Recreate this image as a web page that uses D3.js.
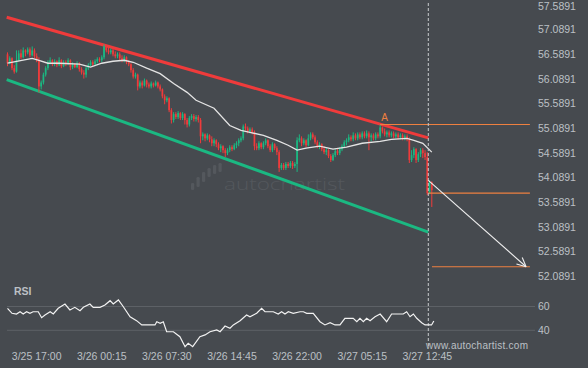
<!DOCTYPE html>
<html>
<head>
<meta charset="utf-8">
<script src="https://cdnjs.cloudflare.com/ajax/libs/d3/7.8.5/d3.min.js"></script>
<style>
  html, body { margin: 0; padding: 0; background: #464a4f; }
  svg { display: block; }
  text { font-family: "Liberation Sans", Arial, sans-serif; }
</style>
</head>
<body>
<div id="chart"></div>
<script>
// 15 minute bars, index 0 .. 189 (open = previous close)
var firstOpen = 56.57;
var barCloses = [
  56.39, 56.49, 56.29, 56.22, 56.45, 56.59, 56.51, 56.65, 56.61, 56.67,
  56.55, 56.65, 56.53, 56.45, 55.92, 56.00, 56.16, 56.29, 56.41, 56.45,
  56.37, 56.43, 56.35, 56.45, 56.33, 56.41, 56.37, 56.45, 56.31, 56.37,
  56.31, 56.39, 56.27, 56.20, 56.16, 56.29, 56.35, 56.41, 56.37, 56.43,
  56.47, 56.45, 56.51, 56.73, 56.65, 56.61, 56.65, 56.57, 56.53, 56.57,
  56.49, 56.45, 56.51, 56.41, 56.37, 56.25, 56.12, 56.16, 55.92, 56.00,
  55.94, 56.04, 55.96, 55.92, 55.98, 55.94, 56.00, 55.92, 55.86, 55.72,
  55.64, 55.68, 55.44, 55.24, 55.36, 55.30, 55.38, 55.28, 55.36, 55.24,
  55.15, 55.28, 55.32, 55.26, 55.30, 55.24, 54.91, 54.95, 54.87, 54.93,
  54.85, 54.77, 54.83, 54.75, 54.67, 54.71, 54.63, 54.57, 54.63, 54.69,
  54.65, 54.73, 54.77, 54.83, 54.87, 55.11, 55.07, 55.01, 55.05, 54.99,
  54.71, 54.67, 54.77, 54.69, 54.77, 54.83, 54.71, 54.63, 54.75, 54.67,
  54.59, 54.27, 54.33, 54.27, 54.35, 54.31, 54.37, 54.31, 54.35, 54.83,
  54.87, 54.77, 54.83, 54.73, 54.87, 54.95, 54.89, 54.79, 54.71, 54.75,
  54.65, 54.59, 54.63, 54.51, 54.43, 54.53, 54.61, 54.57, 54.65, 54.71,
  54.79, 54.83, 54.89, 54.85, 54.93, 54.87, 54.95, 54.89, 54.97, 54.91,
  54.97, 54.89, 54.93, 54.87, 54.95, 54.91, 55.09, 55.01, 54.95, 54.99,
  54.93, 54.97, 54.91, 54.95, 54.89, 54.93, 54.87, 54.91, 54.85, 54.43,
  54.53, 54.65, 54.43, 54.55, 54.63, 54.57, 54.49, 53.76, 53.98, 53.82
];
var barHighs = [
  56.61, 56.53, 56.51, 56.35, 56.65, 56.65, 56.67, 56.71, 56.67, 56.71,
  56.71, 56.73, 56.69, 56.59, 56.51, 56.04, 56.20, 56.33, 56.45, 56.51,
  56.47, 56.47, 56.45, 56.51, 56.47, 56.45, 56.45, 56.49, 56.47, 56.41,
  56.39, 56.43, 56.41, 56.31, 56.25, 56.33, 56.39, 56.45, 56.45, 56.47,
  56.51, 56.51, 56.55, 56.77, 56.75, 56.71, 56.69, 56.69, 56.63, 56.61,
  56.61, 56.55, 56.55, 56.53, 56.45, 56.39, 56.29, 56.20, 56.18, 56.04,
  56.04, 56.08, 56.06, 56.00, 56.02, 56.00, 56.04, 56.02, 55.96, 55.88,
  55.76, 55.72, 55.70, 55.48, 55.40, 55.40, 55.42, 55.40, 55.40, 55.38,
  55.28, 55.32, 55.36, 55.36, 55.34, 55.34, 55.28, 54.99, 54.97, 54.97,
  54.95, 54.91, 54.87, 54.85, 54.79, 54.75, 54.73, 54.67, 54.67, 54.73,
  54.73, 54.77, 54.81, 54.87, 54.91, 55.15, 55.17, 55.11, 55.09, 55.09,
  55.03, 54.77, 54.81, 54.79, 54.81, 54.87, 54.85, 54.75, 54.79, 54.77,
  54.71, 54.63, 54.37, 54.37, 54.39, 54.39, 54.41, 54.41, 54.39, 54.89,
  54.95, 54.91, 54.87, 54.85, 54.95, 54.99, 54.99, 54.93, 54.83, 54.79,
  54.77, 54.71, 54.67, 54.65, 54.55, 54.57, 54.65, 54.65, 54.69, 54.75,
  54.83, 54.87, 54.95, 54.93, 54.99, 54.97, 54.99, 54.99, 55.01, 55.01,
  55.03, 55.01, 54.97, 54.97, 54.99, 54.99, 55.15, 55.11, 55.07, 55.03,
  55.03, 55.01, 55.01, 54.99, 54.99, 54.97, 54.97, 54.95, 54.95, 54.89,
  54.63, 54.69, 54.67, 54.59, 54.67, 54.67, 54.63, 54.59, 54.02, 54.00
];
var barLows = [
  56.33, 56.37, 56.25, 56.18, 56.20, 56.43, 56.47, 56.49, 56.53, 56.57,
  56.51, 56.53, 56.49, 56.41, 55.80, 55.86, 55.96, 56.12, 56.25, 56.37,
  56.33, 56.33, 56.31, 56.33, 56.29, 56.31, 56.33, 56.35, 56.25, 56.27,
  56.29, 56.29, 56.22, 56.16, 56.08, 56.10, 56.25, 56.33, 56.33, 56.33,
  56.39, 56.41, 56.41, 56.47, 56.61, 56.57, 56.57, 56.53, 56.49, 56.49,
  56.45, 56.41, 56.41, 56.37, 56.33, 56.20, 56.08, 56.08, 55.84, 55.88,
  55.88, 55.92, 55.90, 55.88, 55.88, 55.90, 55.92, 55.88, 55.82, 55.68,
  55.56, 55.60, 55.40, 55.17, 55.19, 55.26, 55.26, 55.24, 55.24, 55.15,
  55.09, 55.11, 55.24, 55.21, 55.21, 55.19, 54.77, 54.83, 54.81, 54.83,
  54.79, 54.71, 54.71, 54.69, 54.63, 54.59, 54.57, 54.49, 54.53, 54.59,
  54.61, 54.63, 54.67, 54.71, 54.79, 54.83, 55.03, 54.97, 54.97, 54.95,
  54.63, 54.63, 54.63, 54.65, 54.65, 54.73, 54.67, 54.59, 54.59, 54.63,
  54.53, 54.19, 54.23, 54.23, 54.23, 54.27, 54.27, 54.25, 54.27, 54.19,
  54.79, 54.71, 54.73, 54.69, 54.71, 54.83, 54.85, 54.75, 54.67, 54.65,
  54.61, 54.55, 54.53, 54.47, 54.39, 54.41, 54.49, 54.53, 54.53, 54.61,
  54.67, 54.73, 54.79, 54.81, 54.81, 54.83, 54.83, 54.85, 54.85, 54.87,
  54.87, 54.63, 54.81, 54.83, 54.83, 54.87, 54.87, 54.97, 54.91, 54.89,
  54.89, 54.89, 54.87, 54.87, 54.85, 54.85, 54.83, 54.83, 54.81, 54.37,
  54.39, 54.47, 54.37, 54.39, 54.49, 54.47, 54.43, 53.72, 53.74, 53.48
];
// moving average, [bar, price]
var maPoints = [
  [0, 56.39], [11, 56.49], [14, 56.45], [18, 56.39], [23, 56.39], [32, 56.37],
  [37, 56.31], [42, 56.39], [47, 56.43], [52, 56.45], [56, 56.41], [62, 56.29],
  [68, 56.18], [74, 55.98], [80, 55.80], [84, 55.64], [92, 55.48], [99, 55.13],
  [104, 55.03], [108, 54.99], [114, 54.93], [120, 54.83], [125, 54.73], [129, 54.63],
  [133, 54.67], [139, 54.71], [145, 54.65], [151, 54.69], [158, 54.77], [166, 54.81],
  [171, 54.85], [178, 54.87], [181, 54.83], [185, 54.77], [189, 54.59]
];
// RSI, [bar, value]
var rsiPoints = [
  [0, 58.5], [2, 54.3], [4, 53.7], [5.6, 55.6], [7, 53.7], [8.5, 55.6], [10, 54.3],
  [11.4, 55.6], [13.7, 55.6], [15.2, 50.6], [16.7, 52.9], [19, 55.6], [20.4, 53.7],
  [22.6, 58.5], [25.6, 62.1], [27.8, 57.1], [30, 59.3], [32.3, 56.5], [33.8, 59.3],
  [36.7, 62.1], [38.2, 59.3], [41.2, 59.3], [43.4, 61.3], [45.7, 64.9], [47.1, 62.1],
  [49.4, 65.5], [51.6, 59.8], [54.6, 51.4], [57.5, 48.1], [59.8, 44.5], [65.7, 44.5],
  [66.5, 47.2], [68, 45.9], [69.4, 47.2], [70.9, 38.8], [73.9, 38.8], [76.8, 34.6],
  [79.1, 26.2], [80.5, 29.1], [82.5, 26.2], [85.7, 34.6], [88, 36.1], [90.2, 38.8],
  [93.2, 40.3], [94.7, 38.8], [96.9, 43.6], [99.1, 41.7], [100.6, 44.5], [103.6, 48.1],
  [106.5, 52.9], [108, 51.4], [111, 54.3], [113.2, 58.5], [114.7, 55.6], [118.4, 55.6],
  [120.6, 53.7], [122.1, 55.6], [123.6, 53.7], [125.1, 55.6], [127.3, 54.3], [130.3, 55.6],
  [131.8, 55.6], [133.3, 54.3], [136.2, 54.3], [139.2, 47.2], [141.4, 44.5], [143.7, 46.4],
  [145.9, 44.5], [148.1, 44.5], [150.3, 50.1], [154, 50.1], [155.6, 47.2], [157, 50.1],
  [158.5, 47.2], [160, 50.1], [161.5, 48.1], [163.7, 51.4], [166, 53.7], [168.9, 47.2],
  [171.1, 53.7], [176.3, 53.7], [177.8, 55.6], [179.3, 51.4], [180.8, 53.7], [182.3, 50.1],
  [184.5, 46.4], [186, 44.5], [188.9, 44.5], [189.9, 47.8]
];
var priceTicks = [57.5891, 57.0891, 56.5891, 56.0891, 55.5891, 55.0891,
                  54.5891, 54.0891, 53.5891, 53.0891, 52.5891, 52.0891];
var rsiTicks = [60, 40];
var timeTickBars = [13, 42, 71, 100, 129, 158, 187];
var timeTickLabels = ["3/25 17:00", "3/26 00:15", "3/26 07:30", "3/26 14:45",
                      "3/26 22:00", "3/27 05:15", "3/27 12:45"];
// pattern: [bar, price]
var resistanceLine = [[-0.36, 57.32], [187.45, 54.88]];
var supportLine = [[-0.36, 56.06], [187.45, 52.97]];
var patternEndBar = 187.45;
var pointA = [166, 55.15];
var levelLines = [
  [[166, 55.15], [232.7, 55.15]],
  [[187.45, 53.76], [232.7, 53.76]],
  [[189.1, 52.27], [232.7, 52.27]]
];
var forecastArrow = [[187.45, 54.02], [231, 52.27]];

var W = 588, H = 368;
var svg = d3.select("#chart").append("svg")
  .attr("width", W).attr("height", H)
  .style("background", "#464a4f");

var x = d3.scaleLinear().domain([0, 187]).range([7.5, 427.3]);
var y = d3.scaleLinear().domain([52.0891, 57.5891]).range([275.7, 4.0]);
var yr = d3.scaleLinear().domain([40, 60]).range([330.3, 306.5]);

var RED = "#ef3b3b", GREEN = "#1bb882", ORANGE = "#ee8040", LABEL = "#bcc0c5";

// watermark logo
var logo = svg.append("g").attr("fill", "#54585d");
[[191, 183, 7], [196.5, 177, 10], [202, 172, 10], [207.5, 168, 9], [213, 165, 9], [218.5, 163, 9]]
  .forEach(function(b) {
    logo.append("rect").attr("x", b[0]).attr("y", b[1]).attr("width", 3.2)
      .attr("height", b[2]).attr("rx", 1.2);
  });
logo.append("text").attr("x", 224).attr("y", 190)
  .attr("font-size", 17).attr("font-weight", 300)
  .attr("textLength", 121).attr("lengthAdjust", "spacingAndGlyphs")
  .style("font-family", "'Open Sans', 'DejaVu Sans', sans-serif")
  .text("autochartist");

// right axis labels (baseline kept inside the top edge)
svg.append("g").selectAll("text").data(priceTicks).enter().append("text")
  .attr("x", 538).attr("y", function(d) { return Math.max(y(d) + 4.4, 10); })
  .attr("font-size", 10.5).attr("fill", LABEL)
  .text(function(d) { return d.toFixed(4); });

// RSI panel grid + labels
svg.append("g").selectAll("line").data(rsiTicks).enter().append("line")
  .attr("x1", 7).attr("x2", 535)
  .attr("y1", function(d) { return yr(d); }).attr("y2", function(d) { return yr(d); })
  .attr("stroke", "#5d6166").attr("stroke-width", 1);
svg.append("g").selectAll("text").data(rsiTicks).enter().append("text")
  .attr("x", 538).attr("y", function(d) { return yr(d); }).attr("dy", "0.35em")
  .attr("font-size", 10.5).attr("fill", LABEL)
  .text(function(d) { return d; });
svg.append("text").attr("x", 14).attr("y", 295)
  .attr("font-size", 10.5).attr("font-weight", "bold").attr("fill", LABEL).text("RSI");

// time labels
svg.append("g").selectAll("text").data(timeTickBars).enter().append("text")
  .attr("x", function(d) { return x(d); }).attr("y", 360)
  .attr("text-anchor", "middle").attr("font-size", 10.5).attr("fill", LABEL)
  .text(function(d, i) { return timeTickLabels[i]; });

// channel lines
var lineP = d3.line().x(function(d) { return x(d[0]); }).y(function(d) { return y(d[1]); });
svg.append("path").datum(resistanceLine).attr("d", lineP)
  .attr("stroke", RED).attr("stroke-width", 3).attr("fill", "none");
svg.append("path").datum(supportLine).attr("d", lineP)
  .attr("stroke", GREEN).attr("stroke-width", 3).attr("fill", "none");

// candles
var candles = svg.append("g");
barCloses.forEach(function(c, i) {
  var o = i === 0 ? firstOpen : barCloses[i - 1];
  var col = c >= o ? GREEN : RED;
  var cx = x(i);
  candles.append("line").attr("x1", cx).attr("x2", cx)
    .attr("y1", y(barHighs[i])).attr("y2", y(barLows[i]))
    .attr("stroke", col).attr("stroke-width", 1);
  var top = y(Math.max(o, c)), bot = y(Math.min(o, c));
  candles.append("rect").attr("x", cx - 0.85).attr("width", 1.7)
    .attr("y", top).attr("height", Math.max(1, bot - top)).attr("fill", col);
});

// moving average
svg.append("path").datum(maPoints).attr("d", lineP)
  .attr("stroke", "#e4e4e4").attr("stroke-width", 1.3).attr("fill", "none");

// level lines
levelLines.forEach(function(l) {
  svg.append("path").datum(l).attr("d", lineP)
    .attr("stroke", ORANGE).attr("stroke-width", 1.2).attr("fill", "none");
});
svg.append("text").attr("x", x(pointA[0]) + 4.5).attr("y", y(pointA[1]) - 3)
  .attr("text-anchor", "middle").attr("font-size", 10).attr("fill", ORANGE).text("A");

// pattern end marker
svg.append("line").attr("x1", x(patternEndBar)).attr("x2", x(patternEndBar))
  .attr("y1", 3).attr("y2", 347)
  .attr("stroke", "#c9cbce").attr("stroke-width", 1).attr("stroke-dasharray", "3,2");

// forecast arrow
var a0 = [x(forecastArrow[0][0]), y(forecastArrow[0][1])];
var a1 = [x(forecastArrow[1][0]), y(forecastArrow[1][1])];
var ang = Math.atan2(a1[1] - a0[1], a1[0] - a0[0]);
svg.append("line").attr("x1", a0[0]).attr("y1", a0[1]).attr("x2", a1[0]).attr("y2", a1[1])
  .attr("stroke", "#f0f0f0").attr("stroke-width", 1.1);
[-0.45, 0.45].forEach(function(d) {
  svg.append("line").attr("x1", a1[0]).attr("y1", a1[1])
    .attr("x2", a1[0] - 10 * Math.cos(ang + d)).attr("y2", a1[1] - 10 * Math.sin(ang + d))
    .attr("stroke", "#f0f0f0").attr("stroke-width", 1.1);
});

// RSI line
svg.append("path").datum(rsiPoints)
  .attr("d", d3.line().x(function(d) { return x(d[0]); }).y(function(d) { return yr(d[1]); }))
  .attr("stroke", "#f2f2f2").attr("stroke-width", 1.2).attr("fill", "none");

// footer
svg.append("text").attr("x", 426).attr("y", 349)
  .attr("font-size", 10).attr("letter-spacing", 0.25).attr("fill", LABEL)
  .text("www.autochartist.com");
</script>
</body>
</html>
